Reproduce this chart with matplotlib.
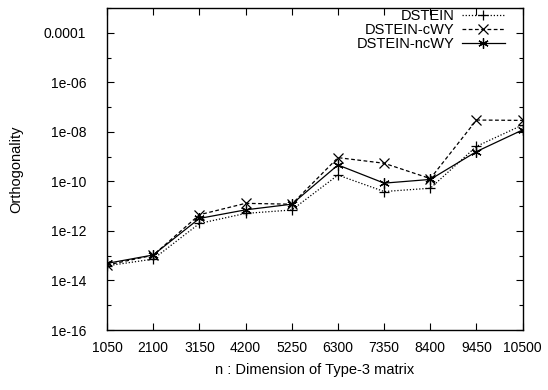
import matplotlib.pyplot as plt
from matplotlib.ticker import FixedLocator, NullFormatter

plt.rcParams["font.family"] = ["Liberation Sans", "DejaVu Sans"]

n = [1050, 2100, 3150, 4200, 5250, 6300, 7350, 8400, 9450, 10500]
dstein = [3.9e-14, 7.3e-14, 2.0e-12, 5.1e-12, 7.0e-12, 1.8e-10, 3.9e-11, 5.3e-11, 2.6e-9, 1.9e-8]
dstein_cwy = [4.2e-14, 1.05e-13, 4.5e-12, 1.3e-11, 1.2e-11, 9.1e-10, 5.4e-10, 1.3e-10, 3.0e-8, 2.9e-8]
dstein_ncwy = [4.9e-14, 1.07e-13, 3.2e-12, 7.1e-12, 1.2e-11, 4.6e-10, 8.5e-11, 1.2e-10, 1.6e-9, 1.2e-8]

y_major = [1e-16, 1e-14, 1e-12, 1e-10, 1e-8, 1e-6, 1e-4]
y_labels = ["1e-16", "1e-14", "1e-12", "1e-10", "1e-08", "1e-06", "0.0001"]
y_minor = [1e-15, 1e-13, 1e-11, 1e-9, 1e-7, 1e-5, 1e-3]

fig = plt.figure(figsize=(5.48, 3.9), dpi=100)
ax = fig.add_axes([0.1953, 0.1538, 0.7585, 0.8257])

ax.plot(n, dstein, color="black", lw=0.9, ls=(0, (1, 1.5)), marker="+",
        ms=7.5, mew=0.9, label="DSTEIN")
ax.plot(n, dstein_cwy, color="black", lw=0.9, ls=(0, (3, 2)), marker="x",
        ms=7, mew=0.9, label="DSTEIN-cWY")
ax.plot(n, dstein_ncwy, color="black", lw=0.9, ls="-", marker=(6, 2, 0),
        ms=7.5, mew=0.9, label="DSTEIN-ncWY")

ax.set_yscale("log")
ax.set_xlim(1050, 10500)
ax.set_ylim(1e-16, 1e-3)
ax.set_xticks(n)
ax.set_xticklabels([str(v) for v in n])
ax.yaxis.set_major_locator(FixedLocator(y_major))
ax.set_yticklabels(y_labels)
ax.yaxis.set_minor_locator(FixedLocator(y_minor))
ax.yaxis.set_minor_formatter(NullFormatter())

ax.tick_params(which="both", direction="in", top=True, right=True,
               labelsize=10, width=0.8)
ax.tick_params(which="major", length=5)
ax.tick_params(which="minor", length=3)
ax.tick_params(axis="x", which="major", pad=8)
ax.tick_params(axis="y", which="major", pad=15)
for s in ax.spines.values():
    s.set_linewidth(1.0)

ax.set_xlabel("n : Dimension of Type-3 matrix", fontsize=10.5, labelpad=6)
ax.set_ylabel("Orthogonality", fontsize=10.5, labelpad=15)

ax.legend(loc="upper right", frameon=False, markerfirst=False, fontsize=10.5,
          handlelength=3.0, handletextpad=0.5, labelspacing=0.0,
          borderpad=0.05, borderaxespad=0.0, bbox_to_anchor=(0.96, 1.0))

fig.savefig("out.png", dpi=100)
